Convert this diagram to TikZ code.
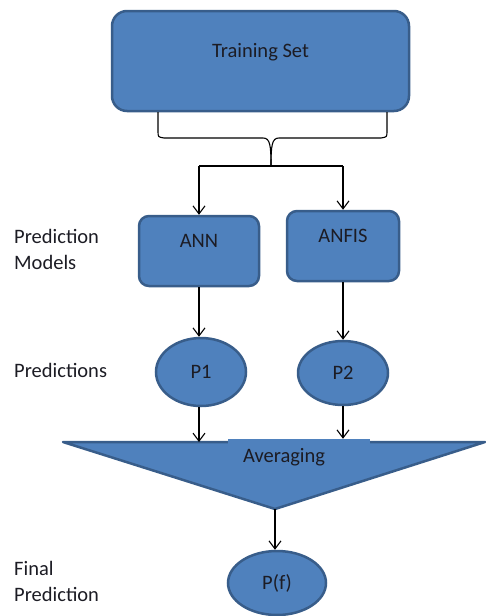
\documentclass[tikz,border=0pt]{standalone}
\usepackage{fontspec}
\setmainfont{Carlito}
\usetikzlibrary{arrows.meta,positioning,shapes.geometric,calc}
\definecolor{boxfill}{HTML}{4F81BD}
\definecolor{boxline}{HTML}{385D8A}
\definecolor{ink}{HTML}{1C1C24}

\begin{document}
\begin{tikzpicture}[x=1pt, y=-1pt,
  font=\fontsize{20.5}{26}\selectfont,
  block/.style={draw=boxline, fill=boxfill, line width=2.5pt, text=ink, text height=14pt, text depth=22pt, inner sep=0pt},
  pred/.style={ellipse, draw=boxline, fill=boxfill, line width=2.5pt, text=ink, inner sep=0pt},
  sidelabel/.style={anchor=west, align=left, text=ink, inner sep=0pt},
  arr/.style={-{Straight Barb[length=8pt,width=12pt]}, line width=1.1pt},
  link/.style={line width=1.1pt}
]
\useasboundingbox (0,0) rectangle (486,616);

% models
\node[block, rounded corners=15pt, minimum width=297pt, minimum height=100pt] (train) at (260.5,61) {Training Set};
\node[block, rounded corners=10pt, minimum width=120pt, minimum height=70pt] (ann) at (199,251) {ANN};
\node[block, rounded corners=10pt, minimum width=112pt, minimum height=70pt] (anfis) at (343,246) {ANFIS};

% predictions
\node[pred, minimum width=90pt, minimum height=68pt] (p1) at (201,372) {P1};
\node[pred, minimum width=90pt, minimum height=64pt] (p2) at (343,373) {P2};

% averaging funnel
\coordinate (avgL) at (63,442);
\coordinate (avgR) at (485,442);
\coordinate (avgTip) at (275,509);
\draw[draw=boxline, fill=boxfill, line width=2.5pt, line join=round] (avgL) -- (avgR) -- (avgTip) -- cycle;
\node[fill=boxfill, text=ink, text width=112pt, align=left, inner xsep=15pt, inner ysep=0pt, minimum height=36pt] (avg) at (299,457) {Averaging};

\node[pred, minimum width=98pt, minimum height=64pt] (pf) at (277,583) {P(f)};

% side labels
\node[sidelabel] (lblmodels) at (14,249) {Prediction\\Models};
\node[sidelabel] (lblpred) at (14,370) {Predictions};
\node[sidelabel] (lblfinal) at (14,581.5) {Final\\Prediction};

% brace under training set
\coordinate (braceL) at (158,112);
\coordinate (braceR) at (387,112);
\coordinate (fork) at (271,166);
\draw[link] (braceL) -- (158,131) .. controls (158,137) .. (164,138) -- (263,138) .. controls (270,138) and (271,145) .. (fork);
\draw[link] (braceR) -- (387,131) .. controls (387,137) .. (381,138) -- (279,138) .. controls (272,138) and (271,145) .. (fork);

% connectors
\draw[link] (ann.north |- fork) -- (anfis.north |- fork);
\draw[arr] (ann.north |- fork) -- (ann.north);
\draw[arr] (anfis.north |- fork) -- (anfis.north);
\draw[arr] (ann.south) -- (ann.south |- p1.north);
\draw[arr] (anfis.south) -- (anfis.south |- p2.north);
\draw[arr] (p1.south -| ann.south) -- (ann.south |- avgL);
\draw[arr] (p2.south) -- (p2.south |- avg.north);
\draw[arr] (avgTip) -- (avgTip |- pf.north);
\end{tikzpicture}
\end{document}
